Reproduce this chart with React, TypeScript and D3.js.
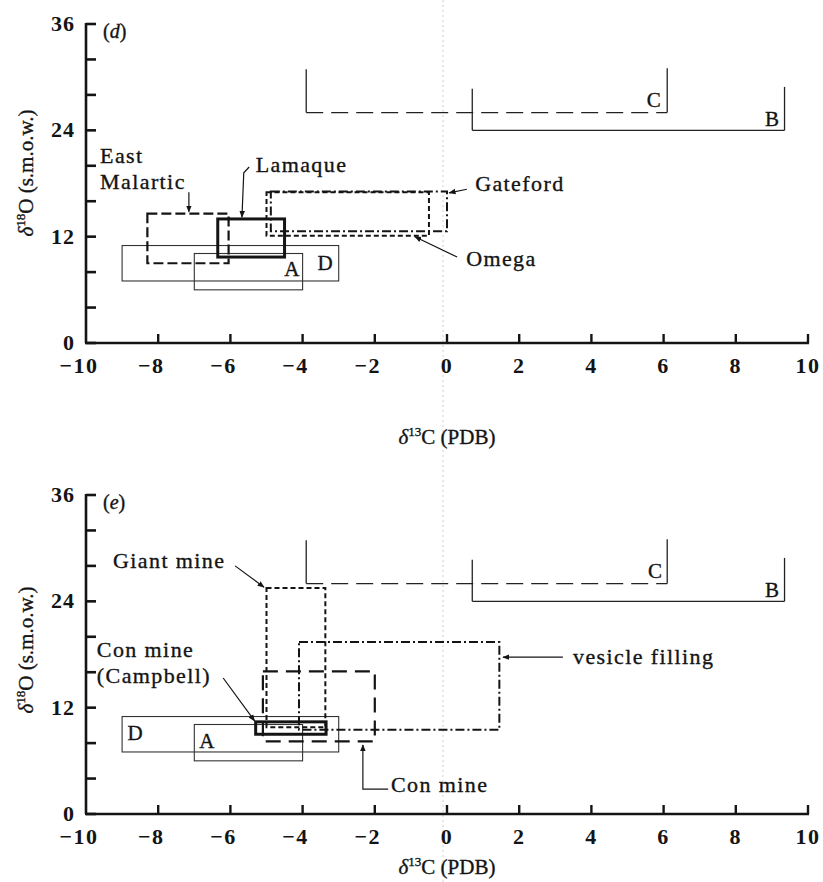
import React from "react";
import * as d3 from "d3";

const W = 823;
const H = 882;

// axes
const xDomain = [-10, 10];
const yDomain = [0, 36];
const xTicks = [-10, -8, -6, -4, -2, 0, 2, 4, 6, 8, 10];
const yTicks = [0, 4, 8, 12, 16, 20, 24, 28, 32, 36];
const yLabelTicks = [0, 12, 24, 36];

// open-topped fields (C and B)
const brackets = [
  { id: "C", x0: -3.9, x1: 6.1, y0: 26, yL: 30.9, yR: 31.0 },
  { id: "B", x0: 0.7, x1: 9.35, y0: 24, yL: 28.7, yR: 28.9 },
];

// panel (d) boxes
const boxesD = [
  { id: "D", x0: -9, x1: -3, y0: 7, y1: 11 },
  { id: "A", x0: -7, x1: -4, y0: 6, y1: 10.1 },
  { id: "EastMalartic", x0: -8.3, x1: -6.05, y0: 9, y1: 14.6 },
  { id: "Lamaque", x0: -6.35, x1: -4.5, y0: 9.7, y1: 14 },
  { id: "Omega", x0: -5.0, x1: -0.5, y0: 12.1, y1: 17.0 },
  { id: "Gateford", x0: -4.88, x1: 0, y0: 12.6, y1: 17.1 },
];

// panel (e) boxes
const boxesE = [
  { id: "D", x0: -9, x1: -3, y0: 7, y1: 11 },
  { id: "A", x0: -7, x1: -4, y0: 6, y1: 10.1 },
  { id: "Giant", x0: -5.0, x1: -3.37, y0: 9.8, y1: 25.5 },
  { id: "ConMine", x0: -5.1, x1: -2.0, y0: 8.2, y1: 16.1 },
  { id: "Vesicle", x0: -4.1, x1: 1.45, y0: 9.5, y1: 19.4 },
  { id: "Campbell", x0: -5.3, x1: -3.35, y0: 9.0, y1: 10.4 },
];

// text labels
const labelsD = [
  { t: "East", x: -9.61, y: 20.3, a: "start" },
  { t: "Malartic", x: -9.61, y: 17.4, a: "start" },
  { t: "Lamaque", x: -5.3, y: 19.3, a: "start" },
  { t: "Gateford", x: 0.78, y: 17.2, a: "start" },
  { t: "Omega", x: 0.53, y: 8.65, a: "start" },
];
const labelsE = [
  { t: "Giant mine", x: -9.25, y: 27.8, a: "start" },
  { t: "Con mine", x: -9.7, y: 17.7, a: "start" },
  { t: "(Campbell)", x: -9.7, y: 14.8, a: "start" },
  { t: "vesicle filling", x: 3.49, y: 16.9, a: "start" },
  { t: "Con mine", x: -1.55, y: 2.45, a: "start" },
];

// field letters
const lettersD = [
  { t: "C", x: 5.73, y: 26.6 },
  { t: "B", x: 9.0, y: 24.5 },
  { t: "A", x: -4.3, y: 7.6 },
  { t: "D", x: -3.38, y: 8.2 },
];
const lettersE = [
  { t: "C", x: 5.76, y: 26.6 },
  { t: "B", x: 9.0, y: 24.5 },
  { t: "D", x: -8.64, y: 8.35 },
  { t: "A", x: -6.65, y: 7.4 },
];

// arrows (polyline in data units, arrowhead at the end)
const arrowsD = [
  [[-7.15, 17.0], [-7.15, 14.8]],
  [[-5.48, 19.86], [-5.63, 19.2], [-5.68, 14.2]],
  [[0.55, 17.35], [0.06, 16.95]],
  [[0.28, 9.7], [-0.89, 12.0]],
];
const arrowsE = [
  [[-5.87, 28.0], [-5.07, 25.6]],
  [[-6.2, 15.35], [-5.33, 10.5]],
  [[3.21, 17.7], [1.55, 17.7]],
  [[-1.63, 2.8], [-2.33, 2.8], [-2.33, 7.8]],
];

const INK = "#141414";
const styleOf: Record<string, { w: number; dash?: string; c?: string }> = {
  D: { w: 1.1, c: "#333" },
  A: { w: 1.1, c: "#333" },
  Lamaque: { w: 3 },
  Campbell: { w: 3 },
  EastMalartic: { w: 2.2, dash: "10,4" },
  ConMine: { w: 2.2, dash: "15,8" },
  Omega: { w: 2, dash: "5,3" },
  Giant: { w: 2, dash: "5,3" },
  Gateford: { w: 2, dash: "9,3,2,3" },
  Vesicle: { w: 2, dash: "9,3,2,3" },
};

const FONT = "'Liberation Serif', 'Times New Roman', serif";
const thick = { stroke: INK, strokeWidth: 0.35 };

function Panel({ tag, top, bottom, boxes, labels, letters, arrows, titleY, yTitleY }: any) {
  const x = d3.scaleLinear().domain(xDomain).range([86, 808]);
  const y = d3.scaleLinear().domain(yDomain).range([bottom, top]);
  const line = d3.line<number[]>().x((d) => x(d[0])).y((d) => y(d[1]));
  return (
    <g>
      {brackets.map((b) => (
        <g key={b.id} fill="none" stroke="#222" strokeWidth={1.3}>
          <line x1={x(b.x0)} x2={x(b.x0)} y1={y(b.yL)} y2={y(b.y0)} />
          <line x1={x(b.x1)} x2={x(b.x1)} y1={y(b.yR)} y2={y(b.y0)} />
          <line
            x1={x(b.x0)}
            x2={x(b.x1)}
            y1={y(b.y0)}
            y2={y(b.y0)}
            strokeDasharray={b.id === "C" ? "17,8" : undefined}
          />
        </g>
      ))}
      {boxes.map((b: any) => {
        const s = styleOf[b.id];
        return (
          <rect
            key={b.id}
            x={x(b.x0)}
            y={y(b.y1)}
            width={x(b.x1) - x(b.x0)}
            height={y(b.y0) - y(b.y1)}
            fill="none"
            stroke={s.c || INK}
            strokeWidth={s.w}
            strokeDasharray={s.dash}
          />
        );
      })}
      {arrows.map((a: number[][], i: number) => (
        <path key={i} d={line(a) as string} fill="none" stroke={INK} strokeWidth={1.2} markerEnd="url(#arrowhead)" />
      ))}
      {labels.map((l: any, i: number) => (
        <text key={i} x={x(l.x)} y={y(l.y)} textAnchor={l.a} fontSize={22} letterSpacing={1.4} fill={INK} fontFamily={FONT} {...thick}>
          {l.t}
        </text>
      ))}
      {letters.map((l: any, i: number) => (
        <text key={i} x={x(l.x)} y={y(l.y)} textAnchor="middle" fontSize={21} fill={INK} fontFamily={FONT} {...thick}>
          {l.t}
        </text>
      ))}
      {/* y axis */}
      <line x1={86} x2={86} y1={y(36) - 1} y2={y(0)} stroke={INK} strokeWidth={2.6} />
      {yTicks.map((t) => (
        <line key={t} x1={86} x2={96} y1={y(t)} y2={y(t)} stroke={INK} strokeWidth={2.6} />
      ))}
      {yLabelTicks.map((t) => (
        <text key={t} x={75} y={y(t) + 7} textAnchor="end" fontSize={22} fontWeight="bold" fill={INK} fontFamily={FONT} letterSpacing={1}>
          {t}
        </text>
      ))}
      {/* x axis */}
      <line x1={x(-10) - 1} x2={x(10) + 1} y1={y(0)} y2={y(0)} stroke={INK} strokeWidth={2.6} />
      {xTicks.filter((t) => t !== -10).map((t) => (
        <line key={t} x1={x(t)} x2={x(t)} y1={y(0)} y2={y(0) - 9} stroke={INK} strokeWidth={2.4} />
      ))}
      {xTicks.map((t) => (
        <text
          key={t}
          x={x(t) + (t < 0 ? -7 : 0)}
          y={y(0) + 30}
          textAnchor="middle"
          fontSize={22}
          fontWeight="bold"
          fill={INK}
          fontFamily={FONT}
          letterSpacing={1.5}
        >
          {t < 0 ? "\u2212" + Math.abs(t) : String(t)}
        </text>
      ))}
      <text x={103} y={top + 14} fontSize={20} fill={INK} fontFamily={FONT} {...thick}>
        (<tspan fontStyle="italic">{tag}</tspan>)
      </text>
      <text x={447} y={titleY} textAnchor="middle" fontSize={21} fill={INK} fontFamily={FONT} {...thick}>
        <tspan fontStyle="italic">δ</tspan>
        <tspan fontSize={13} dy={-8}>13</tspan>
        <tspan dy={8}>C (PDB)</tspan>
      </text>
      <text transform={`translate(33,${yTitleY}) rotate(-90)`} textAnchor="middle" fontSize={21} fill={INK} fontFamily={FONT} {...thick}>
        <tspan fontStyle="italic">δ</tspan>
        <tspan fontSize={13} dy={-8}>18</tspan>
        <tspan dy={8}>O (s.m.o.w.)</tspan>
      </text>
    </g>
  );
}

export default function App() {
  return (
    <svg width={W} height={H} style={{ position: "absolute", left: 0, top: 0, background: "#fff" }}>
      <defs>
        <marker id="arrowhead" viewBox="0 0 10 10" refX={9} refY={5} markerWidth={7} markerHeight={7} markerUnits="userSpaceOnUse" orient="auto">
          <path d="M0,1 L10,5 L0,9 z" fill={INK} />
        </marker>
      </defs>
      <rect width={W} height={H} fill="#fff" />
      <line x1={443} x2={443} y1={0} y2={H} stroke="#cfcfcf" strokeWidth={1} strokeDasharray="2,3" />
      <Panel tag="d" top={24} bottom={343} boxes={boxesD} labels={labelsD} letters={lettersD} arrows={arrowsD} titleY={444} yTitleY={173} />
      <Panel tag="e" top={495} bottom={814} boxes={boxesE} labels={labelsE} letters={lettersE} arrows={arrowsE} titleY={874} yTitleY={650} />
    </svg>
  );
}
